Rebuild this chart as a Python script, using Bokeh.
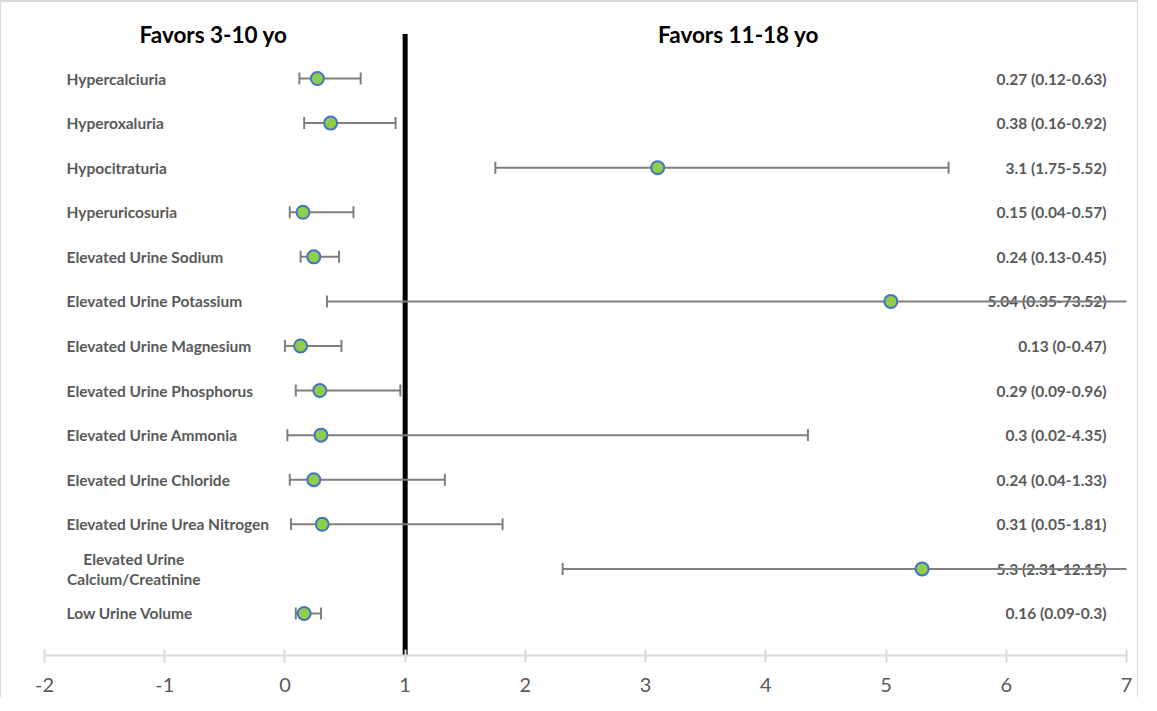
from bokeh.plotting import figure
from bokeh.models import Range1d, FixedTicker
from bokeh.core.properties import value
from bokeh.embed import file_html
from bokeh.resources import INLINE

labels = ["Hypercalciuria", "Hyperoxaluria", "Hypocitraturia", "Hyperuricosuria",
          "Elevated Urine Sodium", "Elevated Urine Potassium", "Elevated Urine Magnesium",
          "Elevated Urine Phosphorus", "Elevated Urine Ammonia", "Elevated Urine Chloride",
          "Elevated Urine Urea Nitrogen", "Elevated Urine\nCalcium/Creatinine", "Low Urine Volume"]
odds = [0.27, 0.38, 3.1, 0.15, 0.24, 5.04, 0.13, 0.29, 0.3, 0.24, 0.31, 5.3, 0.16]
lower = [0.12, 0.16, 1.75, 0.04, 0.13, 0.35, 0, 0.09, 0.02, 0.04, 0.05, 2.31, 0.09]
upper = [0.63, 0.92, 5.52, 0.57, 0.45, 73.52, 0.47, 0.96, 4.35, 1.33, 1.81, 12.15, 0.3]
ci_text = ["0.27 (0.12-0.63)", "0.38 (0.16-0.92)", "3.1 (1.75-5.52)", "0.15 (0.04-0.57)",
           "0.24 (0.13-0.45)", "5.04 (0.35-73.52)", "0.13 (0-0.47)", "0.29 (0.09-0.96)",
           "0.3 (0.02-4.35)", "0.24 (0.04-1.33)", "0.31 (0.05-1.81)", "5.3 (2.31-12.15)",
           "0.16 (0.09-0.3)"]
x_ticks = [-2, -1, 0, 1, 2, 3, 4, 5, 6, 7]
headers = ["Favors 3-10 yo", "Favors 11-18 yo"]

rows = list(range(len(labels)))
n = len(labels)

p = figure(width=1138, height=697, output_backend="svg", toolbar_location=None,
           x_range=Range1d(-2, 7), y_range=Range1d(n - 0.057, -1.503),
           min_border_left=43, min_border_right=13, min_border_top=9, min_border_bottom=44,
           styles={"border-top": "2px solid #d9d9d9", "border-left": "1px solid #d9d9d9",
                   "border-right": "1px solid #d9d9d9"})
p.outline_line_color = None
p.grid.visible = False
p.yaxis.visible = False
ax = p.xaxis[0]
ax.ticker = FixedTicker(ticks=x_ticks)
ax.bounds = (min(x_ticks), max(x_ticks))
ax.major_label_overrides = {t: str(t) for t in x_ticks}
ax.axis_line_color = "#d9d9d9"
ax.axis_line_width = 2
ax.major_tick_line_color = "#d9d9d9"
ax.major_tick_line_width = 2
ax.major_tick_in = 6
ax.major_tick_out = 7
ax.minor_tick_line_color = None
ax.major_label_text_font = "Lato"
ax.major_label_text_font_size = "20px"
ax.major_label_text_color = "#595959"
ax.major_label_standoff = 15

label_font = dict(text_font=value("Lato"), text_font_style="bold", text_font_size="15.5px",
                  text_color="#595959", text_baseline="middle")

# row labels
left_x = -1.817
single = [i for i in rows if "\n" not in labels[i]]
multi = [i for i in rows if "\n" in labels[i]]
p.text(x=[left_x] * len(single), y=[rows[i] for i in single], text=[labels[i] for i in single],
       text_align="left", **label_font)
p.text(x=[left_x + 0.56] * len(multi), y=[rows[i] for i in multi], text=[labels[i] for i in multi],
       text_align="center", text_line_height=1.15, **label_font)

# CI text on the right
p.text(x=[6.834] * n, y=rows, text=ci_text, text_align="right", **label_font)

# headers
p.text(x=[-0.594, 3.773], y=[-0.98, -0.98], text=headers,
       text_font=value("Lato"), text_font_style="bold", text_font_size="22.5px",
       text_color="black", text_align="center", text_baseline="middle")

# reference line at OR = 1
p.segment(x0=[1], y0=[-1.0], x1=[1], y1=[n - 0.057], line_color="black", line_width=5)

# error bars
p.segment(x0=lower, y0=rows, x1=upper, y1=rows, line_color="#7f7f7f", line_width=2)
p.scatter(x=lower + upper, y=rows + rows, marker="dash", angle=1.5708, size=12,
          line_color="#7f7f7f", line_width=2)

# points
p.scatter(x=odds, y=rows, marker="circle", size=13, fill_color="#8fce4a",
          line_color="#4472c4", line_width=2)

open("out.html", "w").write(file_html(p, INLINE))
